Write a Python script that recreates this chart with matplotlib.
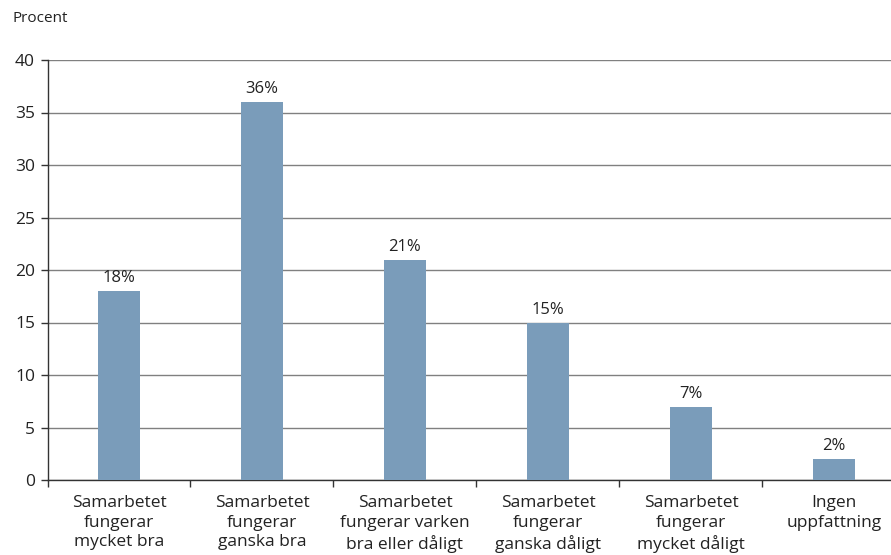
import matplotlib.pyplot as plt

# data
categories = ['Samarbetet\nfungerar\nmycket bra',
              'Samarbetet\nfungerar\nganska bra',
              'Samarbetet\nfungerar varken\nbra eller dåligt',
              'Samarbetet\nfungerar\nganska dåligt',
              'Samarbetet\nfungerar\nmycket dåligt',
              'Ingen\nuppfattning']
values = [18, 36, 21, 15, 7, 2]
yticks = [0, 5, 10, 15, 20, 25, 30, 35, 40]

plt.rcParams['font.family'] = ['Open Sans', 'DejaVu Sans']

fig = plt.figure(figsize=(8.91, 5.55), dpi=100)
ax = fig.add_axes([47.5 / 891, 1 - 480 / 555, 858 / 891, 420 / 555])

x = list(range(len(categories)))
ax.bar(x, values, width=0.3, color='#7a9cba', zorder=3)
for xi, v in zip(x, values):
    ax.text(xi, v + 0.45, f'{v}%', ha='center', va='bottom', fontsize=12, color='#222222')

ax.set_xlim(-0.5, len(categories) - 0.5)
ax.set_ylim(0, 40)
ax.set_yticks(yticks)
ax.set_yticklabels([str(t) for t in yticks], fontsize=12.5, color='#222222')
ax.yaxis.grid(True, color='#808080', linewidth=1, zorder=0)
ax.set_axisbelow(True)

# category labels centred, tick marks between categories
ax.set_xticks(x)
ax.set_xticklabels(categories, fontsize=12.5, color='#222222', linespacing=1.28)
ax.tick_params(axis='x', length=0, pad=11)
ax.set_xticks([i - 0.5 for i in x], minor=True)
ax.tick_params(axis='x', which='minor', length=5, width=1, color='#333333')
ax.tick_params(axis='y', length=5, width=1, color='#333333', pad=4)

for s in ['top', 'right']:
    ax.spines[s].set_visible(False)
for s in ['left', 'bottom']:
    ax.spines[s].set_color('#333333')
    ax.spines[s].set_linewidth(1)

fig.text(12 / 891, 1 - 18 / 555, 'Procent', fontsize=11, color='#222222', va='center')

plt.savefig('out.png', dpi=100)
